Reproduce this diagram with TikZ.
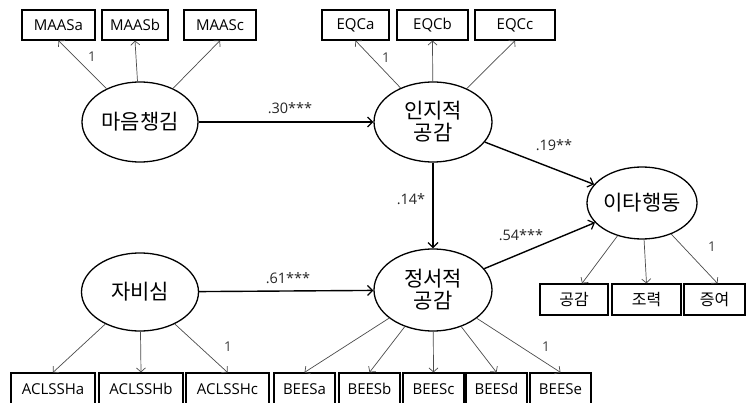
\documentclass[tikz,border=0pt]{standalone}
\usepackage{fontspec}
\setmainfont{Open Sans}
\newfontfamily\kor{Noto Sans CJK KR}
\usetikzlibrary{shapes.geometric,arrows.meta}

\begin{document}
\begin{tikzpicture}[x=1pt,y=-1pt,
  latent/.style={ellipse,draw,line width=1.3pt,inner sep=0pt,
    font=\kor\fontsize{21}{22}\selectfont,align=center},
  indic/.style={rectangle,draw,line width=1.2pt,inner sep=0pt,minimum height=30pt,
    font=\fontsize{15}{18}\selectfont},
  kindic/.style={indic,font=\kor\fontsize{16}{18}\selectfont},
  path/.style={line width=1.4pt,-{Straight Barb[length=5pt,width=10pt,line width=1.2pt]}},
  load/.style={line width=0.7pt,draw=black!70,-{Straight Barb[length=4pt,width=9pt,line width=0.7pt]}},
  coef/.style={font=\fontsize{14.5}{16}\selectfont,text=black!85,inner sep=0pt},
  one/.style={font=\fontsize{13.5}{15}\selectfont,text=black!75,inner sep=0pt}]
\useasboundingbox[fill=white] (0,0) rectangle (746,403);

% latent variables
\node[latent,minimum width=116pt,minimum height=80pt] (mind) at (140,122) {마음챙김};
\node[latent,minimum width=118pt,minimum height=80pt] (cog)  at (433,122) {인지적\\공감};
\node[latent,minimum width=117pt,minimum height=78pt] (comp) at (140,292) {자비심};
\node[latent,minimum width=118pt,minimum height=82pt] (emo)  at (433,290) {정서적\\공감};
\node[latent,minimum width=110pt,minimum height=72pt] (alt)  at (642,203) {이타행동};

% indicators, top row
\node[indic,minimum width=73pt] (maasa) at (58.5,25) {MAASa};
\node[indic,minimum width=66pt] (maasb) at (135,25) {MAASb};
\node[indic,minimum width=72pt] (maasc) at (220,25) {MAASc};
\node[indic,minimum width=67pt] (eqca) at (355.5,25) {EQCa};
\node[indic,minimum width=71pt] (eqcb) at (432.5,25) {EQCb};
\node[indic,minimum width=80pt] (eqcc) at (515,25) {EQCc};

% indicators of 이타행동
\node[kindic,minimum width=68pt,minimum height=31pt] (alta) at (574,299.5) {공감};
\node[kindic,minimum width=69pt,minimum height=31pt] (altb) at (646.5,299.5) {조력};
\node[kindic,minimum width=61pt,minimum height=31pt] (altc) at (714.5,299.5) {증여};

% indicators, bottom row
\node[indic,minimum width=84pt,minimum height=32pt] (acla) at (53,389) {ACLSSHa};
\node[indic,minimum width=84pt,minimum height=32pt] (aclb) at (141,389) {ACLSSHb};
\node[indic,minimum width=83pt,minimum height=32pt] (aclc) at (227.5,389) {ACLSSHc};
\node[indic,minimum width=61pt,minimum height=32pt] (beesa) at (304.5,389) {BEESa};
\node[indic,minimum width=61pt,minimum height=32pt] (beesb) at (369.5,389) {BEESb};
\node[indic,minimum width=61pt,minimum height=32pt] (beesc) at (433.5,389) {BEESc};
\node[indic,minimum width=61pt,minimum height=32pt] (beesd) at (496.5,389) {BEESd};
\node[indic,minimum width=61pt,minimum height=32pt] (beese) at (560.5,389) {BEESe};

% measurement paths
\foreach \b in {maasa,maasb,maasc} \draw[load] (mind) -- (\b.south);
\foreach \b in {eqca,eqcb,eqcc} \draw[load] (cog) -- (\b.south);
\foreach \b in {acla,aclb,aclc} \draw[load] (comp) -- (\b.north);
\foreach \b in {beesa,beesb,beesc,beesd,beese} \draw[load] (emo) -- (\b.north);
\draw[load] (alt) -- ([xshift=8pt]alta.north);
\draw[load] (alt) -- (altb.north);
\draw[load] (alt) -- ([xshift=3pt]altc.north);

% structural paths
\draw[path] (mind) -- (cog);
\draw[path] (comp) -- (emo);
\draw[path] (cog) -- (emo);
\draw[path] (cog) -- (alt);
\draw[path] (emo) -- (alt);

% coefficients
\node[coef] (c1) at (290,108) {.30***};
\node[coef] (c2) at (288,278) {.61***};
\node[coef] (c3) at (411,199) {.14*};
\node[coef] (c4) at (554,145) {.19**};
\node[coef] (c5) at (521,235) {.54***};

% fixed loadings
\node[one] (f1) at (92,57) {1};
\node[one] (f2) at (386,58) {1};
\node[one] (f3) at (228,347) {1};
\node[one] (f4) at (546,347) {1};
\node[one] (f5) at (712,247) {1};
\end{tikzpicture}
\end{document}
